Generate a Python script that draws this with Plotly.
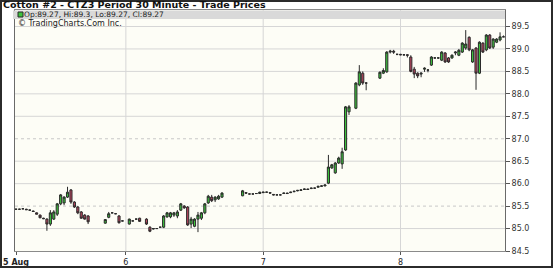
import plotly.graph_objects as go

# ---- data (30-minute bars, x = bar slot index) ----
slots = [0, 1, 2, 3, 4, 5, 6, 7, 8, 9, 10, 11, 12, 13, 14, 15, 16, 17, 18, 19, 20, 21,
         26, 27, 28, 29, 30, 31, 33, 34, 35, 36, 38, 39, 40, 41, 42, 43, 44, 45, 46, 47,
         48, 49, 50, 51, 52, 53, 54, 55, 56, 57, 58, 59, 60,
         66, 67, 68, 69, 70, 71, 72, 73, 74, 75, 76, 77, 78, 79, 80, 81, 82, 83, 84, 85,
         86, 87, 88, 89, 90,
         91, 92, 93, 94, 95, 96, 97, 99, 100, 101, 102,
         106, 107, 108, 109, 110, 111, 112, 113, 114, 115, 116, 117, 118, 119, 120, 121,
         122, 123, 124, 125, 126, 127, 128, 129, 130, 131, 132, 133, 134, 135, 136, 137,
         138, 139, 140, 141, 142]

opens = [85.43, 85.43, 85.44, 85.43, 85.41, 85.39, 85.35, 85.30, 85.23, 85.21, 85.10, 85.21,
         85.32, 85.55, 85.57, 85.70, 85.86, 85.59, 85.48, 85.37, 85.30, 85.28,
         85.12, 85.25, 85.35, 85.33, 85.28, 85.17, 85.10, 85.17, 85.21, 85.23, 85.21, 85.03,
         84.99, 85.00, 85.03, 85.03, 85.26, 85.26, 85.30, 85.28, 85.41, 85.50, 85.48, 85.10,
         85.05, 85.21, 85.23, 85.35, 85.57, 85.70, 85.64, 85.66, 85.70,
         85.73, 85.80, 85.77, 85.77, 85.78, 85.78, 85.80, 85.81, 85.80, 85.76, 85.75, 85.75,
         85.78, 85.79, 85.80, 85.82, 85.84, 85.85, 85.87, 85.88, 85.89, 85.90, 85.92, 85.94,
         85.95,
         86.01, 86.35, 86.24, 86.46, 86.44, 86.75, 87.60, 87.68, 88.20, 88.46, 88.24,
         88.35, 88.46, 88.49, 88.93, 88.95, 88.88, 88.88, 88.87, 88.87, 88.82, 88.55, 88.46,
         88.44, 88.55, 88.53, 88.64, 88.80, 88.80, 88.75, 88.91, 88.80, 88.80, 88.91, 88.86,
         88.93, 89.02, 89.26, 88.71, 89.02, 88.46, 89.13, 88.98, 89.31, 89.04, 89.15, 89.20,
         89.27]

highs = [85.44, 85.44, 85.45, 85.44, 85.42, 85.40, 85.36, 85.31, 85.24, 85.23, 85.41, 85.41,
         85.57, 85.77, 85.72, 85.93, 85.88, 85.61, 85.50, 85.39, 85.32, 85.30,
         85.21, 85.37, 85.36, 85.34, 85.30, 85.18, 85.22, 85.18, 85.22, 85.24, 85.23, 85.05,
         85.01, 85.01, 85.04, 85.30, 85.37, 85.37, 85.37, 85.41, 85.57, 85.52, 85.50, 85.26,
         85.23, 85.37, 85.37, 85.57, 85.75, 85.75, 85.72, 85.75, 85.81,
         85.86, 85.81, 85.78, 85.78, 85.79, 85.82, 85.82, 85.82, 85.81, 85.77, 85.76, 85.76,
         85.80, 85.80, 85.82, 85.84, 85.86, 85.87, 85.89, 85.89, 85.91, 85.91, 85.95, 85.96,
         85.98,
         86.64, 86.44, 86.48, 86.60, 86.80, 87.73, 87.75, 88.26, 88.64, 88.50, 88.26,
         88.50, 88.57, 88.95, 88.98, 88.98, 88.89, 88.89, 88.88, 88.88, 88.86, 88.60, 88.48,
         88.48, 88.59, 88.55, 88.84, 88.82, 88.81, 88.95, 88.93, 88.82, 88.88, 88.95, 89.00,
         89.15, 89.42, 89.28, 89.00, 89.04, 89.17, 89.15, 89.33, 89.33, 89.24, 89.24, 89.37,
         89.30]

lows = [85.42, 85.42, 85.43, 85.42, 85.40, 85.38, 85.32, 85.23, 85.21, 84.95, 85.06, 85.19,
        85.28, 85.52, 85.52, 85.68, 85.55, 85.46, 85.32, 85.22, 85.20, 85.10,
        85.11, 85.23, 85.34, 85.32, 85.11, 85.16, 85.09, 85.16, 85.20, 85.15, 85.08, 84.92,
        84.98, 84.99, 85.02, 85.01, 85.24, 85.23, 85.26, 85.23, 85.39, 85.44, 85.06, 85.01,
        85.03, 84.92, 85.19, 85.32, 85.55, 85.59, 85.59, 85.64, 85.68,
        85.72, 85.77, 85.76, 85.76, 85.77, 85.77, 85.79, 85.80, 85.78, 85.74, 85.74, 85.74,
        85.77, 85.77, 85.79, 85.81, 85.83, 85.84, 85.86, 85.86, 85.88, 85.89, 85.91, 85.93,
        85.94,
        85.99, 86.33, 86.22, 86.44, 86.33, 86.73, 87.53, 87.66, 88.17, 88.20, 88.08,
        88.33, 88.44, 88.47, 88.90, 88.89, 88.86, 88.86, 88.85, 88.81, 88.48, 88.35, 88.35,
        88.37, 88.49, 88.48, 88.62, 88.78, 88.78, 88.73, 88.69, 88.69, 88.78, 88.86, 88.84,
        88.91, 88.98, 88.95, 88.69, 88.09, 88.44, 88.91, 88.95, 89.00, 89.00, 89.13, 89.17,
        89.27]

closes = [85.43, 85.43, 85.44, 85.42, 85.41, 85.38, 85.32, 85.24, 85.22, 85.10, 85.35, 85.37,
          85.55, 85.75, 85.70, 85.81, 85.59, 85.48, 85.35, 85.23, 85.21, 85.15,
          85.20, 85.33, 85.35, 85.33, 85.13, 85.17, 85.21, 85.17, 85.21, 85.16, 85.10, 84.94,
          85.00, 85.00, 85.03, 85.28, 85.35, 85.35, 85.35, 85.37, 85.55, 85.46, 85.08, 85.21,
          85.21, 85.30, 85.35, 85.55, 85.72, 85.62, 85.70, 85.72, 85.79,
          85.84, 85.79, 85.77, 85.77, 85.78, 85.81, 85.81, 85.81, 85.79, 85.75, 85.75, 85.75,
          85.79, 85.78, 85.81, 85.83, 85.85, 85.86, 85.88, 85.87, 85.90, 85.90, 85.94, 85.95,
          85.97,
          86.37, 86.42, 86.46, 86.57, 86.71, 87.71, 87.71, 88.24, 88.49, 88.24, 88.24,
          88.48, 88.52, 88.93, 88.95, 88.93, 88.88, 88.87, 88.87, 88.86, 88.50, 88.44, 88.40,
          88.46, 88.57, 88.53, 88.82, 88.80, 88.80, 88.93, 88.71, 88.71, 88.86, 88.93, 88.97,
          89.13, 89.11, 88.98, 88.98, 88.46, 89.15, 88.93, 89.31, 89.02, 89.22, 89.22, 89.27,
          89.27]

day_ticks = [0, 32, 72, 112]
day_labels = ["<b>5 Aug</b>", "6", "7", "8"]
price_ticks = [84.5, 85.0, 85.5, 86.0, 86.5, 87.0, 87.5, 88.0, 88.5, 89.0, 89.5]
dashed_levels = [85.5, 87.0]

title_text = "Cotton #2 - CTZ3 Period 30 Minute - Trade Prices"
legend_text = "Op:89.27, Hi:89.3, Lo:89.27, Cl:89.27"
credit_text = "\u00a9 TradingCharts.Com Inc."

# ---- layout geometry (pixels) ----
W, H = 553, 268
L, R, T, B = 15, 505, 10, 251
PW, PH = R - L, B - T


def px(x):
    return (x - L) / PW


def py(y):
    return (B - y) / PH


fig = go.Figure()
fig.add_trace(go.Candlestick(
    x=slots, open=opens, high=highs, low=lows, close=closes,
    increasing=dict(line=dict(color="#2a2a2a", width=1), fillcolor="#3dc43d"),
    decreasing=dict(line=dict(color="#2a2a2a", width=1), fillcolor="#b8445e"),
    whiskerwidth=0, showlegend=False, hoverinfo="skip",
))

shapes = []
for v in price_ticks[1:]:
    dashed = v in dashed_levels
    shapes.append(dict(type="line", xref="paper", yref="y", x0=0, x1=1, y0=v, y1=v,
                       line=dict(color="#c8c8c8" if dashed else "#d6d6d6", width=1,
                                 dash="3px,3px" if dashed else "solid"),
                       layer="below"))
for d in day_ticks[1:]:
    shapes.append(dict(type="line", xref="x", yref="paper", x0=d, x1=d, y0=0, y1=1,
                       line=dict(color="#d6d6d6", width=1), layer="below"))
# header band
shapes.append(dict(type="rect", xref="paper", yref="paper", x0=px(13), x1=1,
                   y0=py(19), y1=py(10.5), fillcolor="#d9d9d9", line=dict(width=0),
                   layer="above"))
# legend swatch
shapes.append(dict(type="rect", xref="paper", yref="paper", x0=px(18), x1=px(23),
                   y0=py(17), y1=py(12), fillcolor="#3dc43d",
                   line=dict(color="#2a2a2a", width=1), layer="above"))
# outer frame
shapes.append(dict(type="rect", xref="paper", yref="paper", x0=px(1), x1=px(552),
                   y0=py(267), y1=py(1), line=dict(color="#2b2b2b", width=2),
                   fillcolor="rgba(0,0,0,0)", layer="above"))

annotations = [
    dict(text="<b>" + title_text + "</b>", xref="paper", yref="paper", x=px(1), y=py(4.2),
         xanchor="left", yanchor="middle", showarrow=False,
         font=dict(family="DejaVu Sans, Verdana", size=9.5, color="#111")),
    dict(text=legend_text, xref="paper", yref="paper", x=px(22), y=py(14.5),
         xanchor="left", yanchor="middle", showarrow=False,
         font=dict(family="DejaVu Sans, Verdana", size=7.5, color="#222")),
    dict(text=credit_text, xref="paper", yref="paper", x=px(16), y=py(23),
         xanchor="left", yanchor="middle", showarrow=False,
         font=dict(family="DejaVu Sans, Verdana", size=8, color="#222")),
]

fig.update_layout(
    width=W, height=H,
    margin=dict(l=L, r=W - R, t=T, b=H - B, pad=0, autoexpand=False),
    paper_bgcolor="#ffffff", plot_bgcolor="#fdfdf6",
    boxgap=0.12,
    shapes=shapes, annotations=annotations,
    xaxis=dict(range=[-0.3, (R - L) / 3.44], tickvals=day_ticks, ticktext=day_labels,
               automargin=False,
               showgrid=False, zeroline=False, rangeslider=dict(visible=False),
               showline=True, linecolor="#8a8a8a", linewidth=1, mirror=True,
               ticks="outside", ticklen=3, tickcolor="#555",
               tickfont=dict(family="DejaVu Sans, Verdana", size=8, color="#222")),
    yaxis=dict(side="right", range=[84.5, 84.5 + (B - T) / 44.9], tickvals=price_ticks,
               automargin=False,
               tickformat=".1f", showgrid=False, zeroline=False,
               showline=True, linecolor="#6a6a6a", linewidth=1, mirror=True,
               ticks="outside", ticklen=4, tickcolor="#555",
               tickfont=dict(family="DejaVu Sans, Verdana", size=8, color="#333")),
)

fig.write_html("out.html")
